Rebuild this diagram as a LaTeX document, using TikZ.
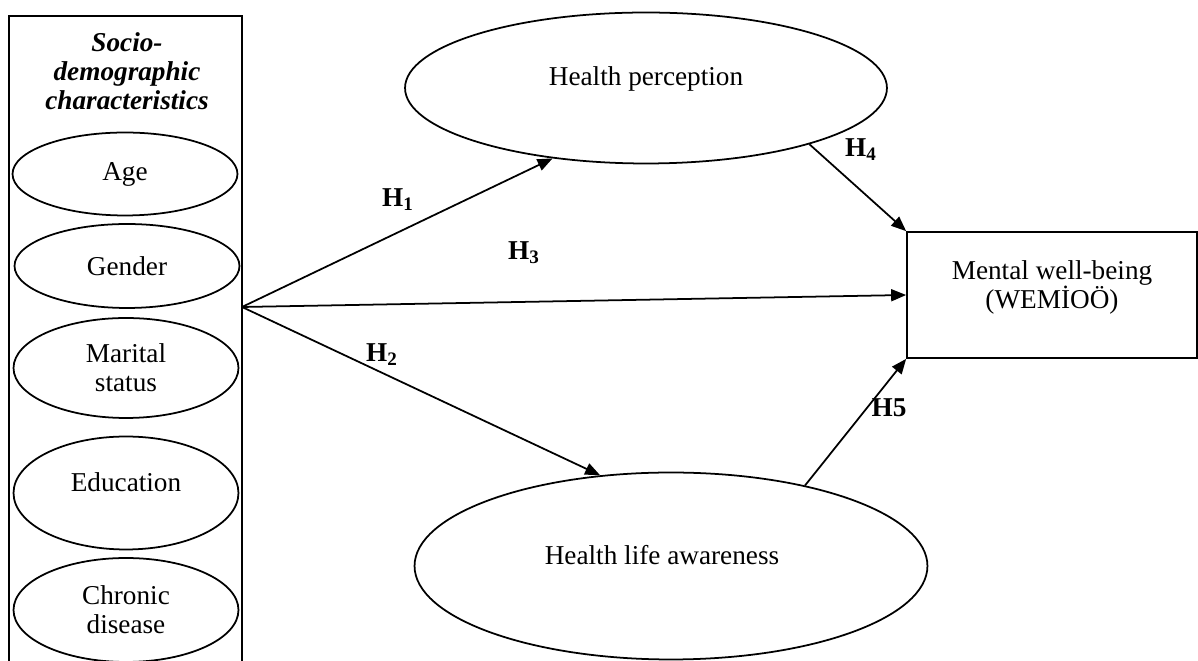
\documentclass[tikz,border=0pt]{standalone}
\usepackage{fontspec}
\setmainfont{Liberation Serif}
\usetikzlibrary{arrows.meta,positioning,shapes.geometric}

\begin{document}
\begin{tikzpicture}[
  x=0.02cm, y=-0.02cm,
  every node/.style={font=\fontsize{15.5}{16.5}\selectfont},
  oval/.style={draw, ellipse, line width=1pt, inner sep=0pt, align=center},
  sdoval/.style={oval, minimum width=4.5cm},
  outcome/.style={draw, rectangle, line width=1pt, minimum width=5.8cm,
    minimum height=2.52cm, align=center},
  hyp/.style={font=\fontsize{15.5}{16.5}\selectfont\bfseries, inner sep=1pt},
  arrow/.style={-{Triangle[length=3mm, width=2.4mm]}, line width=1pt}
]
\useasboundingbox (0,0) rectangle (1198,661);

% socio-demographic block
\draw[line width=1pt] (9,661) -- (9,16) -- (242,16) -- (242,661);
\node[align=center, font=\fontsize{15.5}{16.5}\selectfont\bfseries\itshape] (sdtitle) at (127,71)
  {Socio-\\demographic\\characteristics};
\node[sdoval, minimum height=1.66cm] (age) at (125,174) {Age};
\node[sdoval, minimum height=1.68cm] (gender) at (127,266) {Gender};
\node[sdoval, minimum height=2.0cm] (marital) at (126,368) {Marital\\status};
\node[sdoval, minimum height=2.26cm, text depth=12pt] (educ) at (126,493) {Education};
\node[sdoval, minimum height=2.08cm] (chronic) at (126,610) {Chronic\\disease};
\coordinate (src) at (242,307);

% constructs
\node[oval, minimum width=9.64cm, minimum height=3.02cm, text depth=14pt] (hp) at (646,88)
  {Health perception};
\node[oval, minimum width=10.26cm, minimum height=3.74cm, text depth=13pt] (hla) at (671,566)
  {Health life awareness\hspace*{0.36cm}};
\node[outcome, text depth=12pt] (mwb) at (1052,295) {Mental well-being\\(WEMİOÖ)};

% paths
\draw[arrow] (src) -- (hp.-143);
\draw[arrow] (src) -- (hla.128);
\draw[arrow] (src) -- (mwb.west);
\draw[arrow] (hp.-19) -- (mwb.north west);
\draw[arrow] (hla.31) -- (mwb.south west);

\node[hyp] (h1) at (398,200) {H\textsubscript{1}};
\node[hyp] (h2) at (382,355) {H\textsubscript{2}};
\node[hyp] (h3) at (524,253) {H\textsubscript{3}};
\node[hyp] (h4) at (861,150) {H\textsubscript{4}};
\node[hyp] (h5) at (889,408) {H5};
\end{tikzpicture}
\end{document}
